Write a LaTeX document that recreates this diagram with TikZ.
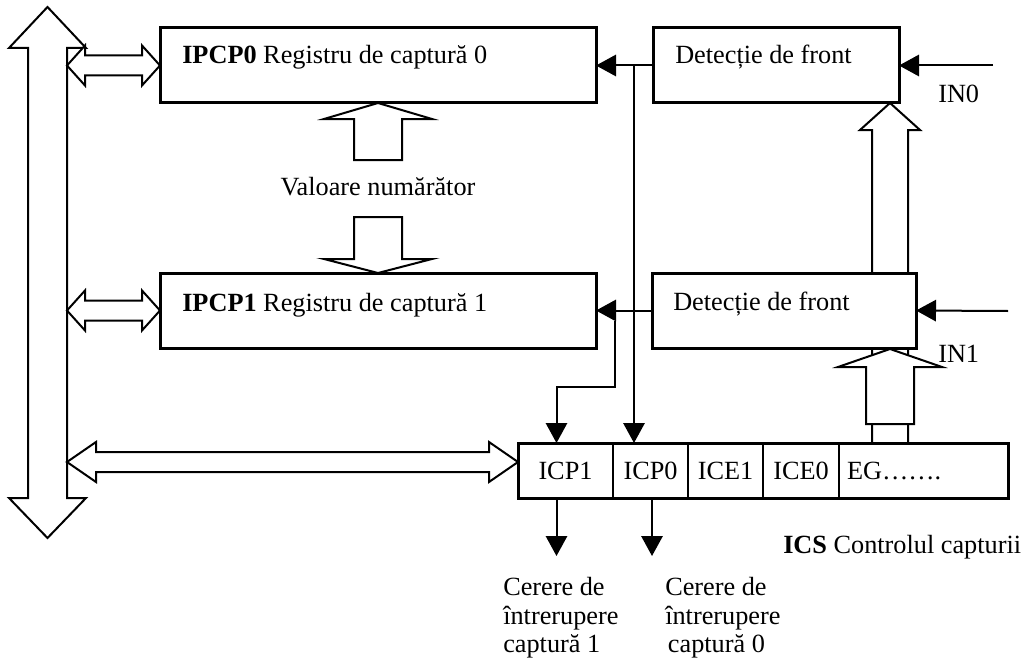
\documentclass[tikz,border=0pt]{standalone}
\usepackage{fontspec}
\setmainfont{Liberation Serif}
\usetikzlibrary{arrows.meta,calc,positioning,backgrounds}
\tikzset{%
	register/.style = {draw, rectangle, line width=2.25pt, fill=white, minimum width=327pt, minimum height=56.25pt, outer sep=0pt},
	detect/.style   = {draw, rectangle, line width=2.25pt, fill=white, minimum width=184.5pt, minimum height=56.25pt, outer sep=0pt},
	cell/.style     = {draw, rectangle, line width=1.5pt, minimum height=41.25pt, inner sep=0pt, outer sep=0pt, text centered},
	txt/.style      = {anchor=base west, inner sep=0pt},
	arrow/.style    = {line width=1.5pt, -{Triangle[length=15pt,width=16pt]}},
	hollow/.style   = {draw, line width=1.5pt, fill=white, line join=miter},
}
\newcommand{\busarrow}[3]{%
	\draw[hollow] (#1) -- ++(#3,-20) -- ++(0,10) -- ($(#2)+(-#3,-10)$) -- ++(0,-10) -- (#2) -- ++(-#3,20) -- ++(0,-10) -- ($(#1)+(#3,10)$) -- ++(0,10) -- cycle;}

\begin{document}
\begin{tikzpicture}[x=0.75pt, y=-0.75pt, font=\fontsize{19.7}{21.4}\selectfont]
	\useasboundingbox (0,0) rectangle (1028,660);

	% data bus
	\draw[hollow] (47.5,7) -- (86,48) -- (67,48) -- (67,498) -- (86,498) -- (47.5,538) -- (9,498) -- (28,498) -- (28,48) -- (9,48) -- cycle;
	\coordinate (bus) at (67,0);

	% capture registers
	\node[register, anchor=north west] (ipcp0) at (160,28) {};
	\node[register, anchor=north west] (ipcp1) at (160,273) {};
	\node[txt] (ipcp0txt) at (182,64) {\textbf{IPCP0} Registru de captură 0};
	\node[txt] (ipcp1txt) at (182,311) {\textbf{IPCP1} Registru de captură 1};

	% edge detectors
	\node[detect, anchor=north west] (det0) at (653,28) {};
	\node[detect, anchor=north west, minimum width=198pt] (det1) at (652,273) {};
	\node[txt] (det0txt) at (675,64) {Detecție de front};
	\node[txt] (det1txt) at (673,310) {Detecție de front};
	\node[txt] (in0txt) at (938,103) {IN0};
	\node[txt] (in1txt) at (938,362) {IN1};
	\coordinate (in0) at (993,65.5);
	\coordinate (in1) at (1008,311);

	% ICS control register
	\node[cell, anchor=north west, minimum width=71.25pt] (icp1) at (518,443) {ICP1};
	\node[cell, right=0pt of icp1, minimum width=56.25pt] (icp0) {ICP0};
	\node[cell, right=0pt of icp0, minimum width=56.25pt] (ice1) {ICE1};
	\node[cell, right=0pt of ice1, minimum width=57pt] (ice0) {ICE0};
	\node[cell, right=0pt of ice0, minimum width=126.75pt, inner xsep=6pt, text width=114.75pt, align=left] (eg) {EG……. };
	\draw[line width=2.25pt] (icp1.north west) rectangle (eg.south east);
	\node[txt] (icstxt) at (783,553) {\textbf{ICS} Controlul capturii};

	% counter value
	\node[anchor=base, inner sep=0pt] (val) at (378,195) {Valoare numărător};
	\draw[hollow] (val |- ipcp0.south) -- ++(54,16) -- ++(-30,0) -- ++(0,41) -- ++(-48,0) -- ++(0,-41) -- ++(-30,0) -- cycle;
	\draw[hollow] (val |- ipcp1.north) -- ++(54,-14) -- ++(-30,0) -- ++(0,-42) -- ++(-48,0) -- ++(0,42) -- ++(-30,0) -- cycle;

	% ICS to edge detectors
	\begin{pgfonlayer}{background}
		\draw[hollow] (890,103) -- ++(30,27) -- ++(-12,0) -- ++(0,313) -- ++(-36,0) -- ++(0,-313) -- ++(-12,0) -- cycle;
	\end{pgfonlayer}
	\draw[hollow] (890,349) -- ++(52,18) -- ++(-28,0) -- ++(0,57) -- ++(-48,0) -- ++(0,-57) -- ++(-28,0) -- cycle;

	% bus arrows
	\busarrow{bus |- ipcp0.west}{ipcp0.west}{18}
	\busarrow{bus |- ipcp1.west}{ipcp1.west}{18}
	\coordinate (icsin) at ($(icp1.north west)+(0,19)$);
	\busarrow{bus |- icsin}{icsin}{29}

	% signals
	\draw[arrow] (det0.west) -- (ipcp0.east);
	\draw[arrow] (det1.west) -- (ipcp1.east);
	\draw[arrow] (in0) -- (det0.east);
	\draw[arrow] (in1) -- (det1.east);
	\coordinate (tap0) at ($(det0.west)+(-19,0)$);
	\coordinate (tap1) at ($(ipcp1.east)+(19,10)$);
	\draw[arrow] (tap0) -- (tap0 |- icp0.north);
	\draw[arrow] (tap1) -- ++(0,66) -| ($(icp1.north)+(-9,0)$);

	% interrupt requests
	\draw[arrow] ($(icp1.south)+(-9,0)$) -- ++(0,58);
	\draw[arrow] ($(icp0.south)+(1.5,0)$) -- ++(0,58);
	\node[anchor=north west, align=left, inner sep=0pt] (req1) at (503,577) {Cerere de\\întrerupere\\captură 1};
	\node[anchor=north west, align=left, inner sep=0pt] (req0) at (665,577) {Cerere de\\întrerupere\\\hspace{2pt}captură 0};
\end{tikzpicture}
\end{document}
